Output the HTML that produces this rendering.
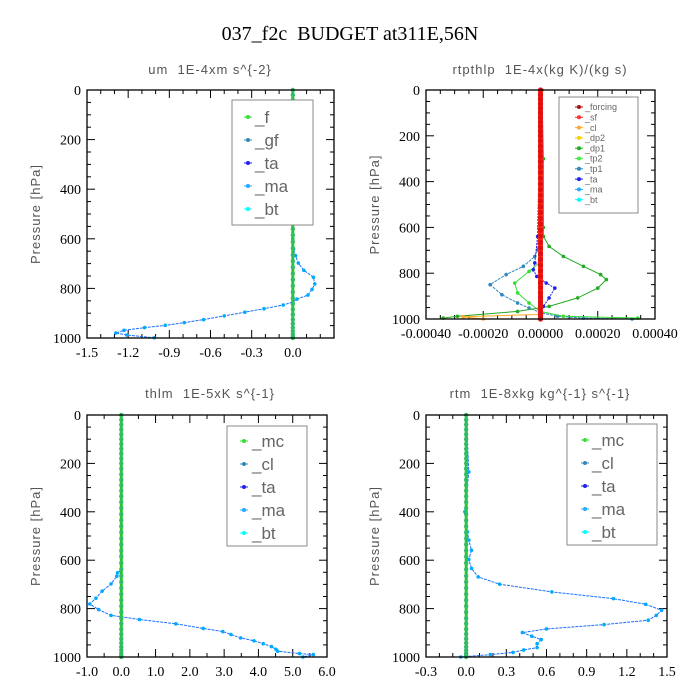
<!DOCTYPE html>
<html><head><meta charset="utf-8"><style>
html,body{margin:0;padding:0;background:#fff;}
svg{display:block;}
text{white-space:pre;}
.tk{font-family:"Liberation Serif",serif;font-size:14px;fill:#000;}
.st{font-family:"Liberation Sans",sans-serif;font-size:13px;fill:#555;letter-spacing:1px;}
.lg{font-family:"Liberation Sans",sans-serif;fill:#666;}
</style></head><body>
<svg id="chart" width="700" height="700" viewBox="0 0 700 700" xmlns="http://www.w3.org/2000/svg">
<text x="350" y="40" text-anchor="middle" font-family="Liberation Serif,serif" font-size="20" xml:space="preserve">037_f2c  BUDGET at311E,56N</text>
</svg>
<script>
// ---- shared zero-line levels ----
const zeroLevels=[0,20,40,60,80,100,120,140,160,180,200,222,245,268,290,313,336,360,385,410,435,460,485,510,535,560,585,612,638,665,690,715,740,765,790,815,840,862,885,905,925,942,958,972,984,993,1000];
// ---- panel 1: um ----
const umP=[0,200,400,600,640,668,698,727,755,782,804,827,843,855,867,882,896,911,926,938,949,958,969,980,988,999];
const umBt=[0,-0.02,0,0,0.005,0.02,0.04,0.08,0.15,0.16,0.14,0.11,0.03,0,-0.07,-0.21,-0.35,-0.5,-0.65,-0.79,-0.93,-1.08,-1.23,-1.29,-1.21,-1.01];
// ---- panel 2: rtpthlp ----
const tp1P=[0,600,698,727,770,806,850,894,930,952,974,988,996,1000];
const tp1V=[0,-0.000005,-0.00001,-0.00002,-0.00006,-0.00012,-0.000176,-0.000135,-0.00008,-0.00004,0.000004,0.00006,0.00015,0.00032];
const tp2P=[0,640,755,792,843,886,930,967,988,996];
const tp2V=[0,0,-0.000004,-0.00004,-0.00009,-0.00008,-0.00004,0,0.00008,0.00034];
const dp1P=[0,300,600,639,683,727,770,806,828,865,908,945,967,988,996];
const dp1V=[0.000005,0.00001,0.00001,0.00001,0.00003,0.00008,0.00015,0.00021,0.00023,0.0002,0.00013,0.00003,-0.00008,-0.00029,-0.00034];
const taP=[0,640,755,785,814,843,865,908,945,974,1000];
const taV=[0,-0.00001,-0.00002,-0.000025,-0.000013,0.00002,0.00005,0.00003,0.00001,0,0];
const clP=[0,980,990,1000];
const clV=[0,0,-0.00027,-0.0002];
// ---- panel 3: thlm ----
const thP=[0,640,652,666,698,728,757,781,804,828,834,845,863,882,895,907,921,933,945,957,968,976,986,990,1000];
const thBt=[0,0,-0.11,-0.13,-0.3,-0.56,-0.74,-0.92,-0.66,-0.3,0,0.53,1.59,2.39,2.96,3.2,3.48,3.87,4.14,4.38,4.51,4.56,5.2,5.6,5.3];
// ---- panel 4: rtm ----
const rtP=[0,235,400,483,517,559,597,634,669,699,731,759,782,807,828,848,866,884,899,914,928,945,961,971,981,990,1000];
const rtBt=[0,0.02,-0.01,0.01,0.02,0.04,0.02,0.04,0.09,0.25,0.64,1.1,1.34,1.46,1.42,1.36,1.03,0.6,0.42,0.49,0.56,0.53,0.53,0.43,0.35,0.18,-0.04];
// tick labels
const xt1=["-1.5","-1.2","-0.9","-0.6","-0.3","0.0"];
const xt2=["-0.00040","-0.00020","0.00000","0.00020","0.00040"];
const xt3=["-1.0","0.0","1.0","2.0","3.0","4.0","5.0","6.0"];
const xt4=["-0.3","0.0","0.3","0.6","0.9","1.2","1.5"];
const yt=["0","200","400","600","800","1000"];

const svg=document.getElementById('chart');
const NS='http://www.w3.org/2000/svg';
function mk(tag,at,parent){const e=document.createElementNS(NS,tag);for(const k in at)e.setAttribute(k,at[k]);(parent||svg).appendChild(e);return e;}

function panel(cfg){
  const g=mk('g',{});
  
  
  const {x0,x1,y0,y1,xmin,xmax}=cfg;
  const sx=v=>x0+(v-xmin)/(xmax-xmin)*(x1-x0);
  const sy=p=>y0+p/1000*(y1-y0);
  const st=mk('text',{x:cfg.tx,y:cfg.ty,'text-anchor':'middle',class:'st'},g);st.textContent=cfg.title;
  
  
  const yl=mk('text',{x:0,y:0,'text-anchor':'middle',class:'st',transform:`translate(${x0-47},${(y0+y1)/2}) rotate(-90)`},g);yl.textContent='Pressure [hPa]';
  
  
  for(let p=0;p<=1000;p+=50){
    const y=sy(p),L=(p%200===0)?8:4;
    mk('line',{x1:x0,x2:x0+L,y1:y,y2:y,stroke:'#000','stroke-width':1},g);
    mk('line',{x1:x1,x2:x1-L,y1:y,y2:y,stroke:'#000','stroke-width':1},g);
  }
  yt.forEach((t,i)=>{const tx=mk('text',{x:x0-6,y:sy(i*200)+5,'text-anchor':'end',class:'tk'},g);tx.textContent=t;
    
    });
  const step=cfg.xstep;
  for(let i=0;;i++){const v=xmin+i*step/cfg.minor;if(v>xmax+1e-12)break;const x=sx(v);const L=(i%cfg.minor===0)?8:4;
    mk('line',{x1:x,x2:x,y1:y1,y2:y1-L,stroke:'#000','stroke-width':1},g);
    mk('line',{x1:x,x2:x,y1:y0,y2:y0+L,stroke:'#000','stroke-width':1},g);}
  cfg.xticks.forEach((t,i)=>{const tx=mk('text',{x:sx(xmin+i*step),y:y1+19,'text-anchor':'middle',class:'tk'},g);tx.textContent=t;
    
    });
  cfg.series.forEach(s=>{
    const pts=s.p.map((p,i)=>sx(s.v[i]).toFixed(1)+','+sy(p).toFixed(1)).join(' ');
    const pl=mk('polyline',{points:pts,fill:'none',stroke:s.c,'stroke-width':s.w||1,'stroke-dasharray':s.d||'none'},g);
    
    
    s.p.forEach((p,i)=>{const c=mk('circle',{cx:sx(s.v[i]),cy:sy(p),r:s.r||1.8,fill:s.mc||s.c},g);
      
      });
  });
  const fr=mk('rect',{x:x0,y:y0,width:x1-x0,height:y1-y0,fill:'none',stroke:'#000','stroke-width':1.3},g);
  
  
  const L=cfg.legend;
  const lb=mk('rect',{x:L.x,y:L.y,width:L.w,height:L.h,fill:'#fff',stroke:'#888','stroke-width':1},g);
  
  
  L.items.forEach((it,i)=>{const y=L.y0+i*L.dy;
    mk('line',{x1:L.mx-4,x2:L.mx+4,y1:y,y2:y,stroke:it[1],'stroke-width':1},g);
    const c=mk('circle',{cx:L.mx,cy:y,r:2,fill:it[1]},g);
    
    
    const t=mk('text',{x:L.tx,y:y+L.fs*0.36,class:'lg','font-size':L.fs},g);t.textContent=it[0];
    
    });
}

const zeros=v=>zeroLevels.map(()=>v);
panel({name:'um-panel',title:'um  1E-4xm s^{-2}',tx:210,ty:74,x0:87,x1:334,y0:90,y1:338,xmin:-1.5,xmax:0.3,xstep:0.3,minor:3,xticks:xt1,
 series:[{name:'um-bt',p:umP,v:umBt,c:'#1a6fff',mc:'#00aaff',d:'3,1'},{name:'um-f',p:zeroLevels,v:zeros(0),c:'#22cc22',w:3,mc:'#33bb66',r:2.2}],
 legend:{x:232,y:100,w:81,h:125,y0:117,dy:23,mx:248,tx:255,fs:17,items:[['_f','#33dd33'],['_gf','#3388bb'],['_ta','#2222ee'],['_ma','#22aaff'],['_bt','#00ffff']]}});
panel({name:'rtpthlp-panel',title:'rtpthlp  1E-4x(kg K)/(kg s)',tx:540,ty:74,x0:426,x1:655,y0:90,y1:319,xmin:-0.0004,xmax:0.0004,xstep:0.0002,minor:4,xticks:xt2,
 series:[{name:'tp1',p:tp1P,v:tp1V,c:'#3388bb',d:'3,1'},{name:'tp2',p:tp2P,v:tp2V,c:'#33dd33'},{name:'dp1',p:dp1P,v:dp1V,c:'#22aa22'},{name:'ta',p:taP,v:taV,c:'#2222ee',d:'2,1'},{name:'cl',p:clP,v:clV,c:'#ffaa22'},{name:'forcing',p:zeroLevels,v:zeros(0),c:'#ff2a1a',w:5,mc:'#dd1111',r:2.6}],
 legend:{x:559,y:97,w:79,h:116,y0:107,dy:10.3,mx:579,tx:585,fs:9,items:[['_forcing','#aa1111'],['_sf','#ff3333'],['_cl','#ffaa33'],['_dp2','#ffcc00'],['_dp1','#22aa22'],['_tp2','#44ee44'],['_tp1','#3388bb'],['_ta','#2222ee'],['_ma','#22aaff'],['_bt','#00ffff']]}});
panel({name:'thlm-panel',title:'thlm  1E-5xK s^{-1}',tx:210,ty:398,x0:87,x1:327,y0:415,y1:657,xmin:-1,xmax:6,xstep:1,minor:2,xticks:xt3,
 series:[{name:'thlm-bt',p:thP,v:thBt,c:'#1a6fff',mc:'#00aaff',d:'3,1'},{name:'thlm-mc',p:zeroLevels,v:zeros(0),c:'#22cc22',w:3,mc:'#33bb66',r:2.2}],
 legend:{x:227,y:426,w:80,h:120,y0:441,dy:23,mx:244,tx:252,fs:17,items:[['_mc','#33dd33'],['_cl','#3388bb'],['_ta','#2222ee'],['_ma','#22aaff'],['_bt','#00ffff']]}});
panel({name:'rtm-panel',title:'rtm  1E-8xkg kg^{-1} s^{-1}',tx:540,ty:398,x0:426,x1:667,y0:415,y1:657,xmin:-0.3,xmax:1.5,xstep:0.3,minor:3,xticks:xt4,
 series:[{name:'rtm-bt',p:rtP,v:rtBt,c:'#1a6fff',mc:'#00aaff',d:'3,1'},{name:'rtm-mc',p:zeroLevels,v:zeros(0),c:'#22cc22',w:3,mc:'#33bb66',r:2.2}],
 legend:{x:567,y:424,w:90,h:121,y0:440,dy:23,mx:585,tx:592,fs:17,items:[['_mc','#33dd33'],['_cl','#3388bb'],['_ta','#2222ee'],['_ma','#22aaff'],['_bt','#00ffff']]}});
</script>
</body></html>
